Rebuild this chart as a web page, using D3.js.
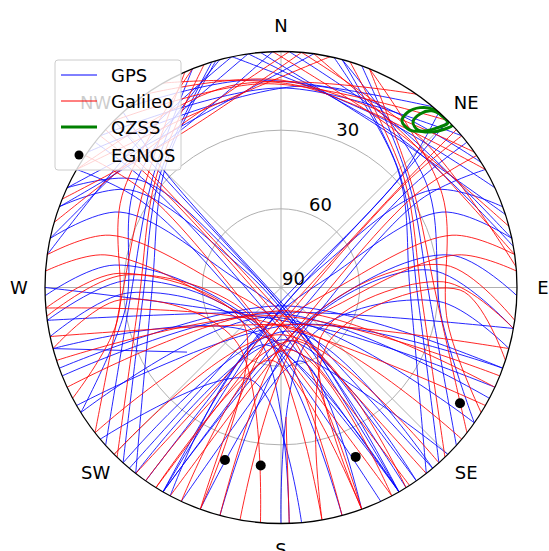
<!DOCTYPE html>
<html><head><meta charset="utf-8">
<script src="https://cdn.jsdelivr.net/npm/d3@7"></script>
<style>body{margin:0;background:#fff;}svg{display:block;font-family:"DejaVu Sans",sans-serif;}</style>
</head><body><svg id="c" width="549" height="551"></svg>
<script>
// Tracks: arrays of [azimuth deg, elevation deg]
const gpsTracks = [
[[250,0],[177,83],[110,0]],
[[238,0],[200,78],[125,0]],
[[222,0],[168,73],[140,0]],
[[208,0],[198,67],[150,0]],
[[262,0],[142,78],[100,0]],
[[200,0],[165,61],[160,0]],
[[230,0],[198,53],[175,0]],
[[270,0],[131,65],[115,0]],
[[255,0],[224,68],[135,0]],
[[315,0],[313.4,27.5],[170,81.3],[145,0]],
[[308,0],[308,26.6],[200,78],[150,0]],
[[300,0],[301.8,26.7],[218.7,74.1],[155,0]],
[[45,0],[47.4,28.3],[182.5,81.4],[215,0]],
[[52,0],[52.4,27.9],[155.3,77.2],[210,0]],
[[60,0],[57.8,27.4],[150.5,71.4],[205,0]],
[[343,0],[312.9,27],[265.2,37.1],[222,0]],
[[338,0],[309.8,26],[265.3,32.2],[228,0]],
[[344,0],[315.9,26.5],[268.9,40.8],[218,0]],
[[15,0],[46.6,27.5],[95.2,37.5],[138,0]],
[[20,0],[49.7,26.5],[94.8,33],[132,0]],
[[13,0],[44.9,26.8],[91.1,40.8],[142,0]],
[[290,0],[322.5,19.1],[358,0]],
[[282,0],[320.4,14.6],[352,0]],
[[295,0],[327.1,17.6],[8,0]],
[[355,0],[36.1,18.1],[72,0]],
[[2,0],[36.7,14.1],[78,0]],
[[348,0],[31.8,14.8],[65,0]],
[[310,0],[0,13.9],[50,0]],
[[320,0],[351.5,10],[40,0]],
[[195,0],[155.9,72.2],[83.3,32.8],[100,0]],
[[210,0],[120,72.8],[79.1,24.4],[92,0]],
[[165,0],[206.3,71.9],[272.8,32.3],[262,0]],
[[150,0],[232.6,72.7],[277.7,26.1],[268,0]],
[[248,0],[185,80],[118,0]],
[[218,0],[175,70],[145,0]],
[[240,0],[160,75],[110,0]],
[[318,0],[314.9,27.6],[176,84],[140,0]],
[[42,0],[47,27],[185,84],[220,0]],
[[345,0],[305,22],[262,30],[238,0]],
[[15,0],[55,22],[100,28],[125,0]],
[[278,0],[318,12],[348,0]],
[[352,0],[40,17],[80,0]],
[[305,0],[10,12],[58,0]],
[[180,0],[150,68],[95,30],[105,0]],
[[178,0],[210,70],[268,32],[258,0]],
[[255,0],[235.5,46.5]],
[[282,0],[295.1,22.2],[283.8,70],[155.9,72.2],[150,0]],
[[290,0],[302.9,21.5],[299,69.9],[164.5,77.1],[150,0]],
[[295,0],[307.3,22.4],[303.3,69.5],[158,75.8],[148,0]],
[[78,0],[64.9,22.2],[76.2,70],[204.1,72.2],[210,0]],
[[70,0],[57.1,21.5],[61,69.9],[195.5,77.1],[210,0]]
];
const galileoTracks = [
[[245,0],[170,81],[115,0]],
[[232,0],[189,75.5],[130,0]],
[[215,0],[165,69],[148,0]],
[[205,0],[189,62],[160,0]],
[[258,0],[142,72],[105,0]],
[[265,0],[213,75],[120,0]],
[[312,0],[311,26.3],[182.3,80.7],[142,0]],
[[304,0],[305.1,26.6],[206.9,74],[152,0]],
[[48,0],[49.6,28.4],[170.7,80.5],[218,0]],
[[56,0],[55.4,27.9],[153.1,74],[208,0]],
[[341,0],[311.2,26.6],[265,35.6],[224,0]],
[[336,0],[307,25],[265.5,28.8],[232,0]],
[[17,0],[48.3,27.2],[95.1,36],[136,0]],
[[22,0],[52,26.6],[94.6,30.3],[128,0]],
[[286,0],[320.6,17.2],[2,0]],
[[300,0],[330.5,15.7],[12,0]],
[[358,0],[35.9,15.9],[75,0]],
[[8,0],[41.2,15.3],[82,0]],
[[330,0],[5.4,12.8],[60,0]],
[[300,0],[345.8,10.7],[35,0]],
[[325,0],[0,10.9],[55,0]],
[[190,0],[138.3,73.4],[82.2,26.9],[98,0]],
[[170,0],[137,62.6],[90.8,21.7],[108,0]],
[[170,0],[218.7,74.1],[274.6,30.3],[263,0]],
[[185,0],[221.2,63.4],[265.6,28.4],[255,0]],
[[252,0],[192,79],[112,0]],
[[225,0],[180,72],[138,0]],
[[212,0],[172,66],[152,0]],
[[310,0],[310,24],[195,80],[147,0]],
[[50,0],[50,27],[165,79],[212,0]],
[[338,0],[300,20],[258,26],[242,0]],
[[22,0],[60,19],[102,25],[122,0]],
[[292,0],[325,20],[5,0]],
[[5,0],[45,12],[85,0]],
[[315,0],[355,12],[45,0]],
[[160,0],[140,66],[88,28],[100,0]],
[[200,0],[225,70],[275,28],[265,0]],
[[178,0],[177.8,40.6]],
[[278,0],[287,21.8],[272.3,66.7],[169.3,71.6],[160,0]],
[[274,0],[280.5,21.7],[259.3,64.4],[181,68.1],[165,0]],
[[82,0],[73,21.8],[87.7,66.7],[190.7,71.6],[200,0]],
[[86,0],[79.5,21.7],[100.7,64.4],[179,68.1],[195,0]]
];
const qzssTracks = [
[[36.0,11.5],[35.9,7.4],[37.7,3.3],[40.2,0.8],[43.2,0.3],[45.4,0.6],[44.7,3.8],[42.6,8.9],[39.3,12.4]],
[[38.6,9.3],[38.7,5.2],[40.5,1.4],[43.4,0.0],[46.5,0.0],[46.0,3.0],[43.8,7.9],[41.0,10.4]]
];
const egnosPoints = [[198.0,20.8],[186.5,21.7],[156.2,19.4],[122.9,8.7]];
const directionLabels = ["N","NE","E","SE","S","SW","W","NW"];
const directionAngles = [0,45,90,135,180,225,270,315];
const elevationTicks = [30,60,90];
const legendNames = ["GPS","Galileo","QZSS","EGNOS"];

const cx = 281, cy = 287.5, R = 236;
const svg = d3.select("#c");
const rScale = d3.scaleLinear().domain([90,0]).range([0,R]);
const rad = d => d*Math.PI/180;
const px = (az, el) => [cx + rScale(el)*Math.sin(rad(az)), cy - rScale(el)*Math.cos(rad(az))];

svg.append("defs").append("clipPath").attr("id","clip")
  .append("circle").attr("cx",cx).attr("cy",cy).attr("r",R);

// grid
const grid = svg.append("g");
[30,60].forEach(v => grid.append("circle").attr("cx",cx).attr("cy",cy).attr("r",rScale(v))
  .attr("fill","none").attr("stroke","#b0b0b0").attr("stroke-width",1));
directionAngles.forEach(a => {
  const p = px(a,0);
  grid.append("line").attr("x1",cx).attr("y1",cy).attr("x2",p[0]).attr("y2",p[1])
    .attr("stroke","#b0b0b0").attr("stroke-width",1);
});

const line = d3.line().x(d=>px(d[0],d[1])[0]).y(d=>px(d[0],d[1])[1]).curve(d3.curveCatmullRom.alpha(0.5));
const tg = svg.append("g").attr("clip-path","url(#clip)");
tg.selectAll("path.gps").data(gpsTracks).join("path").attr("class","gps")
  .attr("d",line).attr("fill","none").attr("stroke","#0000ff").attr("stroke-width",1).attr("stroke-opacity",0.85);
tg.selectAll("path.gal").data(galileoTracks).join("path").attr("class","gal")
  .attr("d",line).attr("fill","none").attr("stroke","#ff0000").attr("stroke-width",1).attr("stroke-opacity",0.85);
const loop = d3.line().x(d=>px(d[0],d[1])[0]).y(d=>px(d[0],d[1])[1]).curve(d3.curveCatmullRomClosed.alpha(0.5));
tg.selectAll("path.qz").data(qzssTracks).join("path").attr("class","qz")
  .attr("d",loop).attr("fill","none").attr("stroke","#008000").attr("stroke-width",3);
svg.selectAll("circle.eg").data(egnosPoints).join("circle").attr("class","eg")
  .attr("cx",d=>px(d[0],d[1])[0]).attr("cy",d=>px(d[0],d[1])[1]).attr("r",5).attr("fill","#000");

// rim
svg.append("circle").attr("cx",cx).attr("cy",cy).attr("r",R).attr("fill","none").attr("stroke","#000").attr("stroke-width",1.3);

// elevation tick labels
const tickOff = {30:[-5,-6],60:[-2,-4],90:[1,-3]};
elevationTicks.forEach(v => {
  const p = px(22.5, v);
  svg.append("text").attr("x",p[0]+tickOff[v][0]).attr("y",p[1]+tickOff[v][1])
    .attr("font-size",18).attr("fill","#000").text(v);
});

// direction labels
directionLabels.forEach((t,i) => {
  const a = rad(directionAngles[i]), rr = R + 26;
  svg.append("text").attr("x",cx+rr*Math.sin(a)).attr("y",cy-rr*Math.cos(a))
    .attr("text-anchor","middle").attr("dominant-baseline","central")
    .attr("font-size",18).attr("fill","#000").text(t);
});

// legend
const lg = svg.append("g");
lg.append("rect").attr("x",55).attr("y",60).attr("width",126).attr("height",110).attr("rx",3)
  .attr("fill","#fff").attr("fill-opacity",0.8).attr("stroke","#cccccc").attr("stroke-width",1);
const rows = [75,101,127,155];
const colors = ["#0000ff","#ff0000","#008000","#000"];
legendNames.forEach((n,i) => {
  const y = rows[i];
  if (i < 3) lg.append("line").attr("x1",61).attr("x2",97).attr("y1",y).attr("y2",y)
      .attr("stroke",colors[i]).attr("stroke-width", i===2 ? 3 : 1);
  else lg.append("circle").attr("cx",79).attr("cy",y).attr("r",4.5).attr("fill","#000");
  lg.append("text").attr("x",111).attr("y",y).attr("dominant-baseline","central")
    .attr("font-size",18).attr("fill","#000").text(n);
});
</script></body></html>
